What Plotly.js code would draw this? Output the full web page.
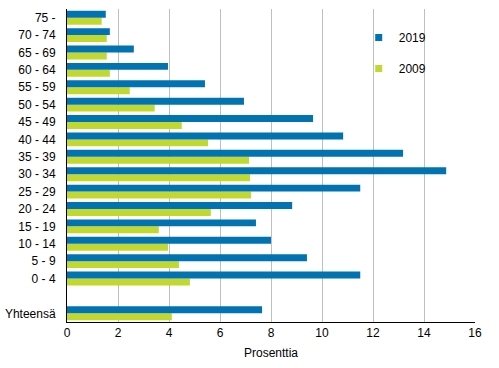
<!DOCTYPE html>
<html>
<head>
<meta charset="utf-8">
<script src="https://cdn.plot.ly/plotly-3.0.1.min.js"></script>
<style>html,body{margin:0;padding:0;background:#fff;}#chart{width:499px;height:368px;}</style>
</head>
<body>
<div id="chart"></div>
<script>
// Categories from bottom to top (" " is the empty gap row)
const categories = ["Yhteensä", " ", "0 - 4", "5 - 9", "10 - 14", "15 - 19", "20 - 24", "25 - 29", "30 - 34", "35 - 39", "40 - 44", "45 - 49", "50 - 54", "55 - 59", "60 - 64", "65 - 69", "70 - 74", "75 -"];
const values2019 = [7.65, null, 11.5, 9.41, 8.0, 7.41, 8.83, 11.5, 14.87, 13.18, 10.83, 9.65, 6.94, 5.41, 3.96, 2.62, 1.68, 1.52];
const values2009 = [4.11, null, 4.82, 4.39, 3.96, 3.6, 5.64, 7.22, 7.18, 7.14, 5.53, 4.5, 3.44, 2.46, 1.68, 1.56, 1.56, 1.36];
const xTicks = [0, 2, 4, 6, 8, 10, 12, 14, 16];
const color2019 = '#0073b0';
const color2009 = '#c3d82e';

const traces = [
  {type: 'bar', orientation: 'h', name: '2009', y: categories, x: values2009,
   marker: {color: color2009}, showlegend: false},
  {type: 'bar', orientation: 'h', name: '2019', y: categories, x: values2019,
   marker: {color: color2019}, showlegend: false},
  // legend-only entries with small square markers
  {type: 'scatter', mode: 'markers', name: '2019', x: [null], y: [null],
   marker: {symbol: 'square', size: 7, color: color2019}, legendgroup: 'a', legendrank: 1},
  {type: 'scatter', mode: 'markers', name: '2009', x: [null], y: [null],
   marker: {symbol: 'square', size: 7, color: color2009}, legendgroup: 'b', legendrank: 2}
];

const layout = {
  width: 499, height: 368,
  margin: {l: 67, r: 24, t: 9, b: 46},
  paper_bgcolor: '#fff', plot_bgcolor: '#fff',
  font: {family: 'Liberation Sans, Arial, sans-serif', size: 12, color: '#000'},
  barmode: 'group', bargap: 0.2, bargroupgap: 0,
  showlegend: true,
  legend: {x: 0.715, y: 0.955, xanchor: 'left', yanchor: 'top', traceorder: 'grouped',
           tracegroupgap: 12, font: {size: 12}, bgcolor: 'rgba(0,0,0,0)', itemwidth: 30},
  xaxis: {range: [0, 16], tickvals: xTicks, ticktext: xTicks.map(String), showgrid: true,
          gridcolor: '#bfbfbf', gridwidth: 1, zeroline: false, showline: true, linecolor: '#000',
          linewidth: 1, ticks: '', fixedrange: true,
          title: {text: 'Prosenttia', font: {size: 12}, standoff: 9}},
  yaxis: {type: 'category', categoryorder: 'array', categoryarray: categories,
          showgrid: false, zeroline: false, showline: true, linecolor: '#000', linewidth: 1,
          ticks: '', ticklabelstandoff: 8, fixedrange: true}
};

Plotly.newPlot('chart', traces, layout, {displayModeBar: false, staticPlot: true});
</script>
</body>
</html>
